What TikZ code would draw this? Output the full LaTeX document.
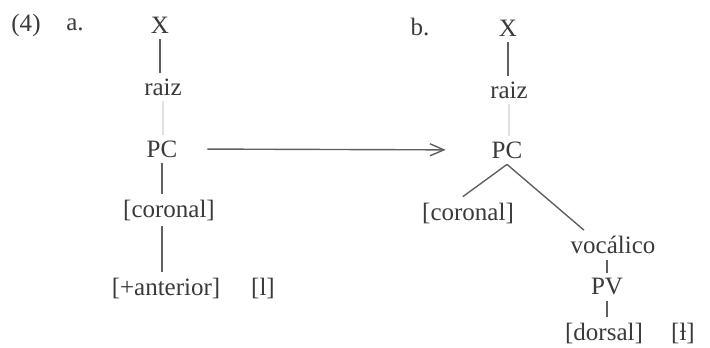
\documentclass[tikz,border=0pt]{standalone}
\usepackage{fontspec}
\setmainfont{Liberation Serif}
\usepackage{tikz}
\usetikzlibrary{positioning,arrows.meta,calc}
\definecolor{inkgray}{HTML}{3A3A3A}
\definecolor{linegray}{HTML}{606060}

\begin{document}
\begin{tikzpicture}[x=0.5pt, y=-0.5pt, >=Stealth,
    seg/.style={inner sep=1pt, outer sep=2pt, text=inkgray, font=\fontsize{12.5}{15}\selectfont},
    branch/.style={draw=linegray, line width=0.7pt},
    faint/.style={draw=black!12, line width=0.7pt}]
    \useasboundingbox (0,0) rectangle (710,347);

    % labels
    \node[seg] (num) at (26,25) {(4)};
    \node[seg] (lbla) at (75,25) {a.};
    \node[seg] (lblb) at (420,27) {b.};

    % tree a
    \node[seg] (Xa) at (160,25) {X};
    \node[seg] (raiza) at (163,87) {raiz};
    \node[seg] (PCa) at (162,149) {PC};
    \node[seg] (cora) at (169,210) {[coronal]};
    \node[seg] (anta) at (166,288) {[+anterior]};
    \node[seg] (la) at (263,288) {[l]};

    \draw[branch] (Xa.south) -- (Xa.south |- raiza.north);
    \draw[faint] (raiza.south) -- (raiza.south |- PCa.north);
    \draw[branch] (PCa.south) -- (PCa.south |- cora.north);
    \draw[branch] (PCa.south |- cora.south) -- (PCa.south |- anta.north);

    % tree b
    \node[seg] (Xb) at (508,28) {X};
    \node[seg] (raizb) at (509,90) {raiz};
    \node[seg] (PCb) at (507,150) {PC};
    \node[seg] (corb) at (468,213) {[coronal]};
    \node[seg] (voc) at (613,245) {vocálico};
    \node[seg] (PV) at (607,287) {PV};
    \node[seg] (dors) at (604,333) {[dorsal]};
    \node[seg] (lb) at (683,333) {[ƚ]};

    \draw[branch] (Xb.south) -- (Xb.south |- raizb.north);
    \draw[faint] (raizb.south) -- (raizb.south |- PCb.north);
    \draw[branch] (PCb.south) -- ($(corb.north west)!0.45!(corb.north east)$);
    \draw[branch] (PCb.south) -- ($(voc.north west)!0.2!(voc.north east)$);
    \draw[branch] (PV.north |- voc.south) -- (PV.north);
    \draw[branch] (PV.south) -- (PV.south |- dors.north);

    % rule arrow
    \draw[branch, -{Straight Barb[length=7pt, width=6pt, sep=3pt]}, shorten <=12pt, shorten >=17pt] (PCa.east) -- (PCb.west);
\end{tikzpicture}
\end{document}
